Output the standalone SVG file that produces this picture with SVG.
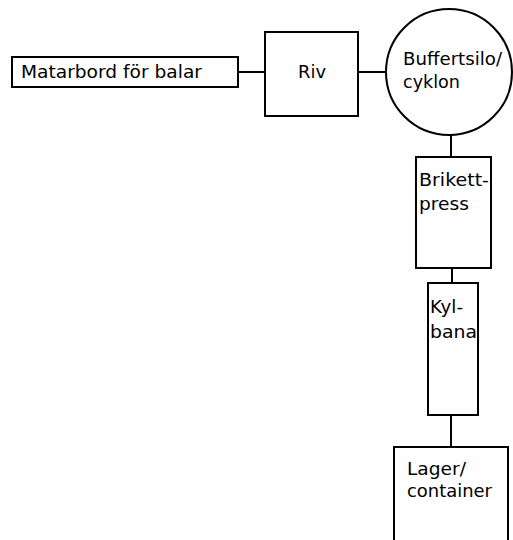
<svg xmlns="http://www.w3.org/2000/svg" width="513" height="540" viewBox="0 0 513 540">
<style>
.box{fill:#fff;stroke:#000;stroke-width:2}
.ln{stroke:#000;stroke-width:2;fill:none}
text{font-family:"DejaVu Sans","Liberation Sans",Arial,sans-serif;font-size:17.5px;fill:#000}
</style>
<rect width="513" height="540" fill="#fff"/>
<g id="connectors">
<line class="ln" x1="238" y1="72" x2="265" y2="72"/>
<line class="ln" x1="358" y1="72" x2="386" y2="72"/>
<line class="ln" x1="451" y1="135" x2="451" y2="157"/>
<line class="ln" x1="452" y1="268" x2="452" y2="283"/>
<line class="ln" x1="451" y1="415" x2="451" y2="447"/>
</g>
<g id="matarbord">
<rect class="box" x="12" y="57" width="226" height="30"/>
<text x="21" y="78" textLength="181" lengthAdjust="spacingAndGlyphs">Matarbord för balar</text>
</g>
<g id="riv">
<rect class="box" x="265" y="32" width="93" height="84"/>
<text x="298" y="78" textLength="28" lengthAdjust="spacingAndGlyphs">Riv</text>
</g>
<g id="buffertsilo">
<circle class="box" cx="449" cy="72" r="63"/>
<text x="403" y="65" textLength="99" lengthAdjust="spacingAndGlyphs">Buffertsilo/</text>
<text x="403" y="88" textLength="57" lengthAdjust="spacingAndGlyphs">cyklon</text>
</g>
<g id="brikettpress">
<rect class="box" x="416" y="157" width="75" height="111"/>
<text x="419" y="186" textLength="70" lengthAdjust="spacingAndGlyphs">Brikett-</text>
<text x="419" y="210" textLength="50" lengthAdjust="spacingAndGlyphs">press</text>
</g>
<g id="kylbana">
<rect class="box" x="428" y="283" width="50" height="132"/>
<text x="430" y="313" textLength="33" lengthAdjust="spacingAndGlyphs">Kyl-</text>
<text x="430" y="338" textLength="47" lengthAdjust="spacingAndGlyphs">bana</text>
</g>
<g id="lager">
<rect class="box" x="394" y="447" width="114" height="100"/>
<text x="407" y="475" textLength="59" lengthAdjust="spacingAndGlyphs">Lager/</text>
<text x="407" y="497" textLength="85" lengthAdjust="spacingAndGlyphs">container</text>
</g>
</svg>
